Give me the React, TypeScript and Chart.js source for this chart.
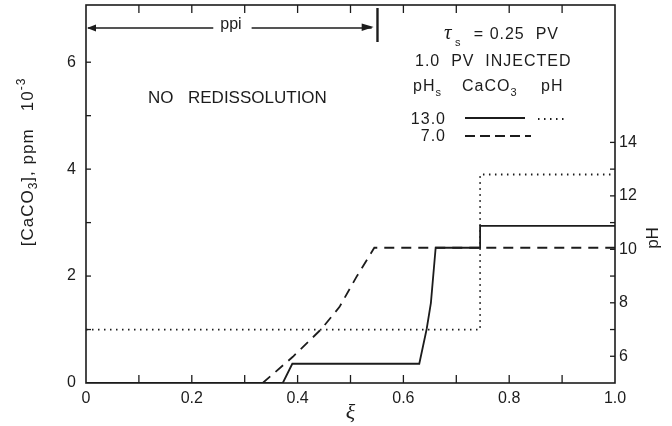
import React, { useEffect, useRef } from 'react';
import { Chart, registerables } from 'chart.js';

Chart.register(...registerables);

// ---- data ----
const xiPHsl13 = [0, 0.745, 0.745, 1.0];
const pHsl13 = [7, 7, 12.8, 12.8];

const xiCaCO3sl13 = [0, 0.372, 0.39, 0.63, 0.644, 0.652, 0.661, 0.745, 0.745, 1.0];
const caco3sl13 = [0, 0, 0.36, 0.36, 1.01, 1.5, 2.53, 2.53, 2.94, 2.94];

const xiCaCO3sl7 = [0.334, 0.391, 0.445, 0.479, 0.511, 0.545, 1.0];
const caco3sl7 = [0, 0.49, 1.01, 1.42, 1.98, 2.53, 2.53];

const xTickLabels = [0, 0.2, 0.4, 0.6, 0.8, 1.0];
const yTickLabels = [0, 2, 4, 6];
const pHTickLabels = [6, 8, 10, 12, 14];

const xMinorTicks = [0.1, 0.2, 0.3, 0.4, 0.5, 0.6, 0.7, 0.8, 0.9];
const yMinorTicks = [1, 2, 3, 4, 5, 6];
const pHMinorTicks = [6, 7, 8, 9, 10, 11, 12, 13, 14];

const INK = '#1c1c1c';
const FONT = '"Liberation Sans", Arial, sans-serif';

const pts = (xs: number[], ys: number[]) => xs.map((x, i) => ({ x, y: ys[i] }));

type Part = [string, number]; // 0 normal, 1 subscript, 2 superscript

function rich(ctx: any, x: number, y: number, parts: Part[], size: number, align: 'left' | 'center' | 'right' = 'left') {
  const small = Math.round(size * 0.7);
  const widths = parts.map(([t, k]) => {
    ctx.font = `${k ? small : size}px ${FONT}`;
    return ctx.measureText(t).width;
  });
  const total = widths.reduce((a, b) => a + b, 0);
  let cx = align === 'left' ? x : align === 'center' ? x - total / 2 : x - total;
  ctx.textAlign = 'left';
  ctx.textBaseline = 'middle';
  parts.forEach(([t, k], i) => {
    ctx.font = `${k ? small : size}px ${FONT}`;
    const dy = k === 1 ? size * 0.35 : k === 2 ? -size * 0.4 : 0;
    ctx.fillText(t, cx, y + dy);
    cx += widths[i];
  });
}

const annotPlugin = {
  id: 'annot',
  afterDraw(chart: any) {
    const { ctx, chartArea: a, scales } = chart;
    const X = (v: number) => scales.x.getPixelForValue(v);
    const Y = (v: number) => scales.y.getPixelForValue(v);
    const P = (v: number) => scales.y2.getPixelForValue(v);
    const line = (x1: number, y1: number, x2: number, y2: number) => {
      ctx.beginPath();
      ctx.moveTo(x1, y1);
      ctx.lineTo(x2, y2);
      ctx.stroke();
    };
    ctx.save();
    ctx.strokeStyle = INK;
    ctx.fillStyle = INK;
    ctx.lineWidth = 1.6;
    ctx.strokeRect(a.left, a.top, a.right - a.left, a.bottom - a.top);

    // inward ticks
    ctx.lineWidth = 1.3;
    xMinorTicks.forEach((v) => {
      line(X(v), a.bottom, X(v), a.bottom - 8);
      line(X(v), a.top, X(v), a.top + 8);
    });
    yMinorTicks.forEach((v) => line(a.left, Y(v), a.left + 5, Y(v)));
    pHMinorTicks.forEach((v) => line(a.right, P(v), a.right - 5, P(v)));

    // ppi arrow
    const ay = 28;
    const x0 = X(0);
    const xEnd = X(0.54);
    const tx = X(0.274);
    ctx.font = `16px ${FONT}`;
    const tw = ctx.measureText('ppi').width;
    ctx.lineWidth = 1.5;
    line(x0 + 2, ay, tx - tw / 2 - 7, ay);
    line(tx + tw / 2 + 10, ay, xEnd, ay);
    ctx.beginPath();
    ctx.moveTo(x0 + 1, ay);
    ctx.lineTo(x0 + 10, ay - 3.5);
    ctx.lineTo(x0 + 10, ay + 3.5);
    ctx.closePath();
    ctx.fill();
    ctx.beginPath();
    ctx.moveTo(xEnd + 2, ay - 1);
    ctx.lineTo(xEnd - 10, ay - 4.5);
    ctx.lineTo(xEnd - 10, ay + 3);
    ctx.closePath();
    ctx.fill();
    ctx.textAlign = 'center';
    ctx.textBaseline = 'middle';
    ctx.fillText('ppi', tx, ay - 3);
    ctx.lineWidth = 2.4;
    line(X(0.551), 8, X(0.551), 42);

    // texts
    ctx.font = `17px ${FONT}`;
    ctx.textAlign = 'left';
    ctx.textBaseline = 'middle';
    ctx.fillText('NO', 148, 98);
    ctx.fillText('REDISSOLUTION', 188, 98);

    ctx.letterSpacing = '1px';
    // tau line
    ctx.font = `italic 21px "Liberation Serif", serif`;
    ctx.fillText('τ', 444, 33);
    rich(ctx, 455, 37, [['s', 1]], 16);
    ctx.font = `16px ${FONT}`;
    ctx.textAlign = 'right';
    ctx.fillText('= 0.25  PV', 559, 35);

    ctx.textAlign = 'left';
    ctx.fillText('1.0  PV  INJECTED', 415, 62);

    rich(ctx, 413, 87, [['pH', 0], ['s', 1]], 16);
    rich(ctx, 462, 87, [['CaCO', 0], ['3', 1]], 16);
    rich(ctx, 541, 87, [['pH', 0]], 16);

    ctx.font = `16px ${FONT}`;
    ctx.textAlign = 'right';
    ctx.fillText('13.0', 446, 120);
    ctx.fillText('7.0', 446, 137);
    ctx.letterSpacing = '0px';

    // legend samples
    ctx.lineWidth = 1.8;
    line(465, 118, 525, 118);
    ctx.setLineDash([1.5, 4.5]);
    line(538, 119, 568, 119);
    ctx.setLineDash([10, 5]);
    line(465, 136, 531, 136);
    ctx.setLineDash([]);

    // axis titles
    ctx.save();
    ctx.translate(28, 162);
    ctx.rotate(-Math.PI / 2);
    ctx.letterSpacing = '1px';
    rich(ctx, 0, 0, [['[CaCO', 0], ['3', 1], ['], ppm   10', 0], ['-3', 2]], 17, 'center');
    ctx.letterSpacing = '0px';
    ctx.restore();

    ctx.save();
    ctx.translate(653, 238);
    ctx.rotate(-Math.PI / 2);
    ctx.font = `17px ${FONT}`;
    ctx.textAlign = 'center';
    ctx.textBaseline = 'middle';
    ctx.fillText('pH', 0, 0);
    ctx.restore();

    ctx.font = `italic 22px "Liberation Serif", serif`;
    ctx.textAlign = 'center';
    ctx.textBaseline = 'middle';
    ctx.fillText('ξ', X(0.5), 413);

    ctx.restore();
  },
};

const zeroPad = (s: any) => {
  s.paddingTop = 0;
  s.paddingBottom = 0;
  s.paddingLeft = 0;
  s.paddingRight = 0;
};

export default function App() {
  const ref = useRef<HTMLCanvasElement | null>(null);

  useEffect(() => {
    if (!ref.current) return;
    const tickFont = { family: FONT, size: 16 };
    const chart = new Chart(ref.current, {
      type: 'scatter',
      data: {
        datasets: [
          {
            label: 'CaCO3, pHs 13.0',
            data: pts(xiCaCO3sl13, caco3sl13),
            showLine: true,
            borderColor: INK,
            borderWidth: 1.8,
            pointRadius: 0,
            yAxisID: 'y',
          },
          {
            label: 'CaCO3, pHs 7.0',
            data: pts(xiCaCO3sl7, caco3sl7),
            showLine: true,
            borderColor: INK,
            borderWidth: 1.8,
            borderDash: [10, 7],
            pointRadius: 0,
            yAxisID: 'y',
          },
          {
            label: 'pH, pHs 13.0',
            data: pts(xiPHsl13, pHsl13),
            showLine: true,
            borderColor: INK,
            borderWidth: 1.8,
            borderDash: [1.5, 4.5],
            pointRadius: 0,
            yAxisID: 'y2',
          },
        ],
      },
      options: {
        animation: false,
        responsive: false,
        devicePixelRatio: 1,
        layout: { padding: { top: 5, left: 0, right: 0, bottom: 0 } },
        plugins: { legend: { display: false }, tooltip: { enabled: false } },
        scales: {
          x: {
            type: 'linear',
            min: 0,
            max: 1,
            afterFit: (s: any) => { s.height = 43; zeroPad(s); },
            afterBuildTicks: (s: any) => { s.ticks = xTickLabels.map((v) => ({ value: v })); },
            grid: { display: false, drawTicks: false },
            border: { display: false },
            ticks: {
              padding: 6,
              color: INK,
              font: tickFont,
              autoSkip: false,
              maxRotation: 0,
              callback: (v: any) => (v === 0 ? '0' : Number(v).toFixed(1)),
            },
          },
          y: {
            type: 'linear',
            position: 'left',
            min: 0,
            max: 7.07,
            afterFit: (s: any) => { s.width = 86; zeroPad(s); },
            afterBuildTicks: (s: any) => { s.ticks = yTickLabels.map((v) => ({ value: v })); },
            grid: { display: false, drawTicks: false },
            border: { display: false },
            ticks: { padding: 10, color: INK, font: tickFont, autoSkip: false },
          },
          y2: {
            type: 'linear',
            position: 'right',
            min: 5,
            max: 19.14,
            afterFit: (s: any) => { s.width = 57; zeroPad(s); },
            afterBuildTicks: (s: any) => { s.ticks = pHTickLabels.map((v) => ({ value: v })); },
            grid: { display: false, drawTicks: false },
            border: { display: false },
            ticks: { padding: 4, color: INK, font: tickFont, autoSkip: false },
          },
        },
      },
      plugins: [annotPlugin],
    } as any);
    return () => chart.destroy();
  }, []);

  return (
    <div style={{ position: 'fixed', left: 0, top: 0, width: 672, height: 426, background: '#fff' }}>
      <canvas ref={ref} width={672} height={426} style={{ display: 'block' }} />
    </div>
  );
}
